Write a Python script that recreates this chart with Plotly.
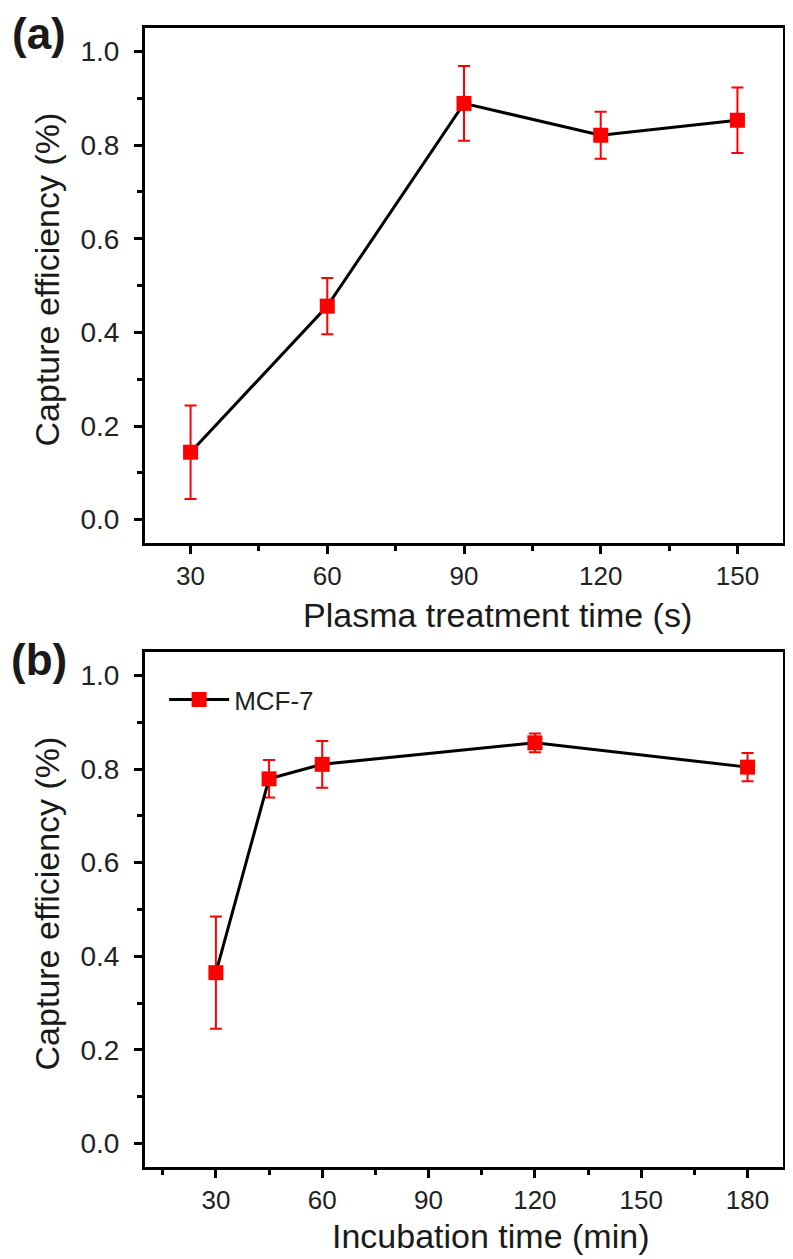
import plotly.graph_objects as go
from plotly.subplots import make_subplots

# Panel (a)
plasma_time = [30, 60, 90, 120, 150]
plasma_eff = [0.144, 0.456, 0.889, 0.821, 0.853]
plasma_err = [0.10, 0.06, 0.08, 0.05, 0.07]

# Panel (b)
incub_time = [30, 45, 60, 120, 180]
incub_eff = [0.365, 0.779, 0.810, 0.856, 0.804]
incub_err = [0.12, 0.04, 0.05, 0.02, 0.03]

series_name = "MCF-7"
y_title = "Capture efficiency (%)"
xa_title = "Plasma treatment time (s)"
xb_title = "Incubation time (min)"

FONT = "Liberation Sans, Arial, sans-serif"

fig = make_subplots(rows=2, cols=1, vertical_spacing=0.0)

common = dict(
    mode="lines+markers",
    line=dict(color="black", width=3),
    marker=dict(symbol="square", size=15, color="#ff0000"),
)
fig.add_trace(go.Scatter(x=plasma_time, y=plasma_eff, showlegend=False,
                         error_y=dict(type="data", array=plasma_err, color="#ff0000",
                                      thickness=2, width=6), **common), row=1, col=1)
fig.add_trace(go.Scatter(x=incub_time, y=incub_eff, name=series_name, showlegend=True,
                         error_y=dict(type="data", array=incub_err, color="#ff0000",
                                      thickness=2, width=6), **common), row=2, col=1)

axis_common = dict(showline=True, linecolor="black", linewidth=3, mirror=True,
                   ticks="outside", ticklen=8, tickwidth=2.5, tickcolor="black",
                   showgrid=False, zeroline=False)
minor_common = dict(ticks="outside", ticklen=5, tickwidth=2.5, tickcolor="black", showgrid=False)
xfont = dict(family=FONT, size=26, color="#222")
yfont = dict(family=FONT, size=28, color="#222")

fig.update_xaxes(range=[20, 160], tick0=30, dtick=30, ticklabelstandoff=0, tickfont=xfont,
                 minor=dict(tick0=15, dtick=15, **minor_common),
                 **axis_common, row=1, col=1)
fig.update_xaxes(range=[10, 190], tick0=0, dtick=30, ticklabelstandoff=0, tickfont=xfont,
                 minor=dict(tick0=15, dtick=15, **minor_common),
                 **axis_common, row=2, col=1)
for r in (1, 2):
    fig.update_yaxes(range=[-0.05, 1.05], tick0=0, dtick=0.2, tickformat=".1f",
                     ticklabelstandoff=9, tickfont=yfont,
                     minor=dict(tick0=0.1, dtick=0.1, **minor_common),
                     **axis_common, row=r, col=1)

fig.update_layout(
    xaxis=dict(domain=[0, 1]), yaxis=dict(domain=[0.5478, 1.0]),
    xaxis2=dict(domain=[0, 1]), yaxis2=dict(domain=[0.0, 0.4522]),
)

annots = [
    dict(text=xa_title, x=0.552, y=0.4845, size=34, angle=0),
    dict(text=xb_title, x=0.541, y=-0.0605, size=34, angle=0),
    dict(text=y_title, x=-0.1529, y=0.7796, size=34, angle=-90),
    dict(text=y_title, x=-0.1529, y=0.2318, size=34, angle=-90),
    dict(text="<b>(a)</b>", x=-0.1665, y=0.9956, size=44, angle=0),
    dict(text="<b>(b)</b>", x=-0.1665, y=0.4460, size=44, angle=0),
]
for a in annots:
    fig.add_annotation(text=a["text"], x=a["x"], y=a["y"], xref="paper", yref="paper",
                       xanchor="center", yanchor="middle", showarrow=False,
                       textangle=a["angle"],
                       font=dict(family=FONT, size=a["size"], color="#1a1a1a"))

# page body has an 8px margin, so the figure is shifted by 8px right and down
fig.update_layout(
    width=785, height=1251,
    margin=dict(l=137, r=7, t=20, b=92),
    paper_bgcolor="white", plot_bgcolor="white",
    font=dict(family=FONT, color="#222"),
    legend=dict(x=0.03, y=0.431, xanchor="left", yanchor="top",
                bgcolor="rgba(0,0,0,0)", font=dict(family=FONT, size=26, color="#222"),
                itemwidth=60),
)

fig.write_html("out.html")
